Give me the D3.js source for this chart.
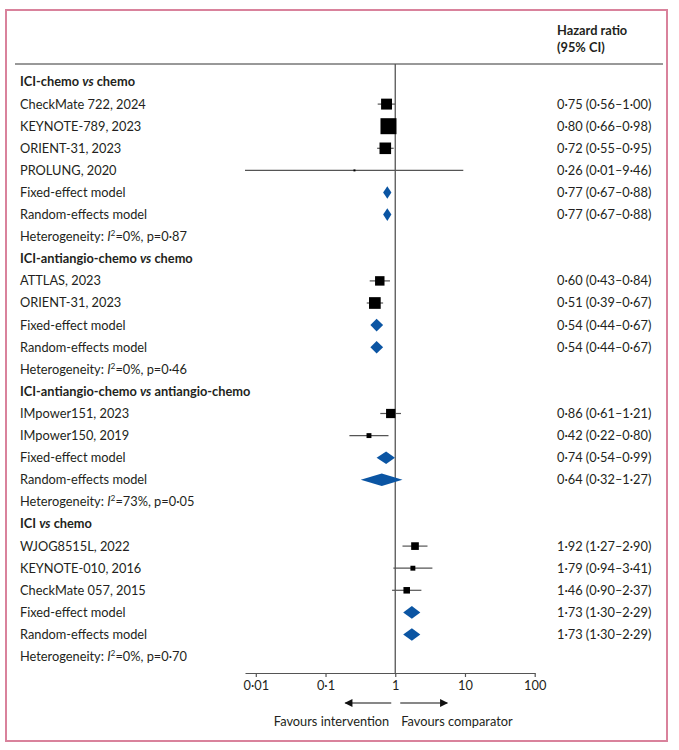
<!DOCTYPE html>
<html><head><meta charset="utf-8">
<script src="https://cdn.jsdelivr.net/npm/d3@7/dist/d3.min.js"></script>
<style>
body{margin:0;background:#fff;}
svg text{font-family:Lato,"Liberation Sans",sans-serif;fill:#231f20;}
</style></head><body>
<svg id="chart" width="679" height="750"></svg>
<script>
// ---- data ----
const groupTitles = ["ICI-chemo vs chemo","ICI-antiangio-chemo vs chemo","ICI-antiangio-chemo vs antiangio-chemo","ICI vs chemo"];
const studyNames = ["CheckMate 722, 2024","KEYNOTE-789, 2023","ORIENT-31, 2023","PROLUNG, 2020","ATTLAS, 2023","ORIENT-31, 2023","IMpower151, 2023","IMpower150, 2019","WJOG8515L, 2022","KEYNOTE-010, 2016","CheckMate 057, 2015"];
const studyGroup = [0,0,0,0,1,1,2,2,3,3,3];
const studyHR = [0.75,0.80,0.72,0.26,0.60,0.51,0.86,0.42,1.92,1.79,1.46];
const studyLo = [0.56,0.66,0.55,0.007,0.43,0.39,0.61,0.22,1.27,0.94,0.90];
const studyHi = [1.00,0.98,0.95,9.46,0.84,0.67,1.21,0.80,2.90,3.41,2.37];
const fixedHR = [0.77,0.54,0.74,1.73];
const fixedLo = [0.67,0.44,0.54,1.30];
const fixedHi = [0.88,0.67,0.99,2.29];
const randomHR = [0.77,0.54,0.64,1.73];
const randomLo = [0.67,0.44,0.32,1.30];
const randomHi = [0.88,0.67,1.27,2.29];
const hetI2 = ["0%","0%","73%","0%"];
const hetP = ["0·87","0·46","0·05","0·70"];
const tickValues = [0.01,0.1,1,10,100];
const tickLabels = ["0·01","0·1","1","10","100"];

// ---- layout ----
const svg = d3.select("#chart");
const fmt = v => v.toFixed(2).replace(".", "·");
const ciText = (h,l,u) => `${fmt(h)} (${fmt(l)}–${fmt(u)})`;

// build rows
const rows = [];
groupTitles.forEach((t,g) => {
  rows.push({type:"header", label:t});
  studyNames.forEach((n,i) => {
    if (studyGroup[i] === g) rows.push({type:"study", label:n, hr:studyHR[i], lo:studyLo[i], hi:studyHi[i]});
  });
  rows.push({type:"diamond", label:"Fixed-effect model", hr:fixedHR[g], lo:fixedLo[g], hi:fixedHi[g]});
  rows.push({type:"diamond", label:"Random-effects model", hr:randomHR[g], lo:randomLo[g], hi:randomHi[g]});
  rows.push({type:"het", i2:hetI2[g], p:hetP[g]});
});

const y0 = 82, step = 22.1;
const yRow = i => y0 + i*step;
const x = d3.scaleLog().domain([0.007, 100]).range([245, 534.7]);
const axisY = 673;
const fontSize = 12.8;

// frame
svg.append("rect").attr("x",6).attr("y",10).attr("width",661).attr("height",731)
  .attr("fill","none").attr("stroke","#d9829c").attr("stroke-width",2);

// header
svg.append("text").attr("x",557).attr("y",35).attr("font-weight","bold").attr("font-size",fontSize).text("Hazard ratio");
svg.append("text").attr("x",557).attr("y",52).attr("font-weight","bold").attr("font-size",fontSize).text("(95% CI)");
svg.append("line").attr("x1",15).attr("x2",663).attr("y1",64).attr("y2",64).attr("stroke","#333").attr("stroke-width",1);

// reference line
svg.append("line").attr("x1",x(1)).attr("x2",x(1)).attr("y1",64).attr("y2",axisY)
  .attr("stroke","#555").attr("stroke-width",1.3);

// square size from inverse standard error
const invSe = rows.filter(r=>r.type==="study").map(r => 3.92/Math.log(r.hi/r.lo));
const size = d3.scaleLinear().domain([0, d3.max(invSe)]).range([0, 16]);

rows.forEach((r,i) => {
  const y = yRow(i);
  const g = svg.append("g");
  if (r.type === "header") {
    const parts = r.label.split(" vs ");
    const t = g.append("text").attr("x",20).attr("y",y).attr("dy","0.35em").attr("font-size",fontSize).attr("font-weight","bold");
    t.append("tspan").text(parts[0] + " ");
    t.append("tspan").attr("font-style","italic").text("vs");
    t.append("tspan").text(" " + parts[1]);
  } else if (r.type === "het") {
    const t = g.append("text").attr("x",20).attr("y",y).attr("dy","0.35em").attr("font-size",fontSize);
    t.append("tspan").text("Heterogeneity: ");
    t.append("tspan").attr("font-style","italic").text("I");
    t.append("tspan").attr("font-size",fontSize*0.65).attr("dy",-5).text("2");
    t.append("tspan").attr("dy",5).text(`=${r.i2}, p=${r.p}`);
  } else {
    g.append("text").attr("x",20).attr("y",y).attr("dy","0.35em").attr("font-size",fontSize).text(r.label);
    g.append("text").attr("x",557).attr("y",y).attr("dy","0.35em").attr("font-size",fontSize).text(ciText(r.hr, Math.max(r.lo,0.01), r.hi));
    if (r.type === "study") {
      g.append("line").attr("x1",x(Math.max(r.lo, x.domain()[0]))).attr("x2",x(r.hi)).attr("y1",y).attr("y2",y)
        .attr("stroke","#555").attr("stroke-width",1.2);
      const s = Math.max(2, size(3.92/Math.log(r.hi/r.lo)));
      g.append("rect").attr("x",x(r.hr)-s/2).attr("y",y-s/2).attr("width",s).attr("height",s).attr("fill","#000");
    } else {
      const h = 6.3;
      g.append("path").attr("d",`M${x(r.lo)},${y}L${x(r.hr)},${y-h}L${x(r.hi)},${y}L${x(r.hr)},${y+h}Z`)
        .attr("fill","#0b55a3");
    }
  }
});

// axis
const axis = d3.axisBottom(x).tickValues(tickValues).tickFormat((d,i)=>tickLabels[i]).tickSize(4).tickSizeOuter(0).tickPadding(4);
const ag = svg.append("g").attr("transform",`translate(0,${axisY})`).call(axis);
ag.select(".domain").attr("stroke","#555").attr("stroke-width",1.2);
ag.selectAll(".tick line").attr("stroke","#555").attr("stroke-width",1.2);
ag.selectAll(".tick text").attr("font-size",fontSize).attr("font-family","Lato, 'Liberation Sans', sans-serif").attr("fill","#231f20");

// arrows
const defs = svg.append("defs");
defs.append("marker").attr("id","arr").attr("viewBox","0 0 10 10").attr("refX",9).attr("refY",5)
  .attr("markerWidth",9).attr("markerHeight",8).attr("markerUnits","userSpaceOnUse").attr("orient","auto")
  .append("path").attr("d","M0,0L10,5L0,10Z").attr("fill","#111");
const ay = 703;
svg.append("line").attr("x1",x(1)-4).attr("x2",x(1)-50).attr("y1",ay).attr("y2",ay).attr("stroke","#111").attr("stroke-width",1.2).attr("marker-end","url(#arr)");
svg.append("line").attr("x1",x(1)+5).attr("x2",x(1)+52).attr("y1",ay).attr("y2",ay).attr("stroke","#111").attr("stroke-width",1.2).attr("marker-end","url(#arr)");
svg.append("text").attr("x",x(1)-6).attr("y",722).attr("dy","0.35em").attr("text-anchor","end").attr("font-size",fontSize).text("Favours intervention");
svg.append("text").attr("x",x(1)+6).attr("y",722).attr("dy","0.35em").attr("font-size",fontSize).text("Favours comparator");
</script>
</body></html>
